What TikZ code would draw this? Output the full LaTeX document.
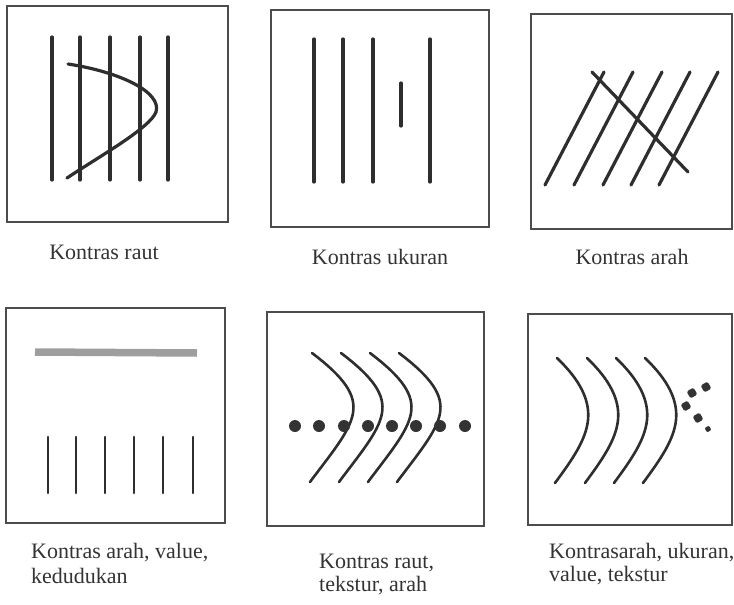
\documentclass[tikz,border=0pt]{standalone}
\usepackage{fontspec}
\setmainfont{Liberation Serif}
\begin{document}
\begin{tikzpicture}[x=1pt,y=-1pt,
  frame/.style={draw=black!70,line width=1.7pt},
  stroke/.style={draw=black!82,line width=3.2pt,line cap=round},
  thin stroke/.style={draw=black!82,line width=2.6pt,line cap=round},
  caption/.style={font=\fontsize{22}{26}\selectfont,text=black!80,inner sep=0pt},
  dot/.style={fill=black!80}]
\useasboundingbox (0,0) rectangle (734,605);
% ---------- panel 1: Kontras raut ----------
\draw[frame] (7,6) rectangle (228,222);
\foreach \x in {52,80,110,140,168} \draw[stroke] (\x,37) -- (\x,180);
\draw[stroke] (68,64) .. controls (120,72) and (162,92) .. (156,112)
  .. controls (150,128) and (100,156) .. (67,178);
\node[caption] (c1) at (104,252) {Kontras raut};
% ---------- panel 2: Kontras ukuran ----------
\draw[frame] (271,10) rectangle (489,227);
\foreach \x in {314,343,373,430} \draw[stroke] (\x,39) -- (\x,182);
\draw[stroke] (401,83) -- (401,126);
\node[caption] (c2) at (380,257) {Kontras ukuran};
% ---------- panel 3: Kontras arah ----------
\draw[frame] (531,14) rectangle (732,229);
\foreach \d in {0,29,58,86,114} \draw[stroke] (545+\d,185) -- (604+\d,72);
\draw[stroke] (592,72) -- (688,172);
\node[caption] (c3) at (632,257) {Kontras arah};
% ---------- panel 4: Kontras arah, value, kedudukan ----------
\draw[frame] (6,308) rectangle (225,523);
\draw[draw=black!38,line width=7.5pt] (35,352) -- (197,353);
\foreach \x in {48,76,105,134,163,193} \draw[thin stroke] (\x,437) -- (\x,493);
\node[caption,anchor=west] (c4a) at (31,553) {Kontras arah, value,};
\node[caption,anchor=west] (c4b) at (31,576) {kedudukan};
% ---------- panel 5: Kontras raut, tekstur, arah ----------
\draw[frame] (267,312) rectangle (484,526);
\foreach \d in {0,29,58,87}
  \draw[thin stroke] (312+\d,353) .. controls (345+\d,378) and (356+\d,395) .. (353+\d,413)
    .. controls (350+\d,432) and (330+\d,455) .. (310+\d,482);
\foreach \x in {295,319,344,368,392,416,440,465} \fill[dot] (\x,426) circle (6pt);
\node[caption,anchor=west] (c5a) at (319,563) {Kontras raut,};
\node[caption,anchor=west] (c5b) at (319,586) {tekstur, arah};
% ---------- panel 6: Kontrasarah, ukuran, value, tekstur ----------
\draw[frame] (528,314) rectangle (732,525);
\foreach \d in {0,30,59,88}
  \draw[thin stroke] (557+\d,358) .. controls (580+\d,380) and (590+\d,400) .. (588+\d,420)
    .. controls (586+\d,440) and (572+\d,460) .. (555+\d,483);
\foreach \px/\py in {692/393, 706/387, 686/406, 698/418}
  \fill[dot,rounded corners=1.5pt,rotate around={30:(\px,\py)}] (\px-4,\py-4) rectangle (\px+4,\py+4);
\fill[dot,rounded corners=1pt,rotate around={30:(708,429)}] (705.5,426.5) rectangle (710.5,431.5);
\node[caption,anchor=west] (c6a) at (549,553) {Kontrasarah, ukuran,};
\node[caption,anchor=west] (c6b) at (549,576) {value, tekstur};
\end{tikzpicture}
\end{document}
